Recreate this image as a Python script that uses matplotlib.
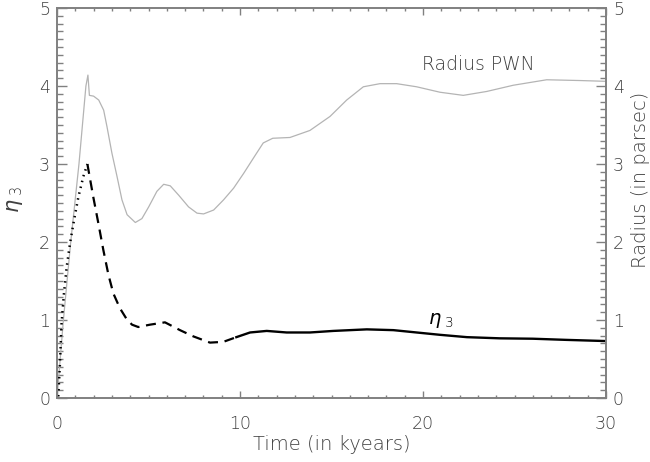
import numpy as np
import matplotlib
matplotlib.use("Agg")
import matplotlib.pyplot as plt
from matplotlib.ticker import MultipleLocator

plt.rcParams['font.family'] = ['DejaVu Sans']
plt.rcParams['font.weight'] = 'light'
plt.rcParams['axes.labelweight'] = 'light'
plt.rcParams['mathtext.fontset'] = 'dejavusans'

# radius of the PWN (grey curve), parsec vs kyr
radius_t = [0.0, 0.35, 0.75, 1.2, 1.58, 1.69, 1.77, 2.0, 2.28, 2.55, 2.73, 3.0, 3.28,
            3.55, 3.83, 4.28, 4.64, 5.01, 5.46, 5.83, 6.19, 6.65, 7.19, 7.65, 8.01,
            8.56, 9.1, 9.65, 10.2, 10.8, 11.27, 11.79, 12.73, 13.82, 14.92, 15.83,
            16.74, 17.65, 18.56, 19.65, 20.93, 22.2, 23.48, 24.94, 26.76, 28.58, 30.0]
radius_r = [0.0, 1.0, 2.0, 3.0, 4.0, 4.14, 3.88, 3.87, 3.82, 3.69, 3.48, 3.14, 2.84,
            2.54, 2.35, 2.25, 2.30, 2.45, 2.65, 2.74, 2.72, 2.60, 2.45, 2.37, 2.36,
            2.41, 2.54, 2.69, 2.88, 3.1, 3.27, 3.33, 3.34, 3.43, 3.61, 3.82,
            3.99, 4.03, 4.03, 3.99, 3.92, 3.88, 3.93, 4.01, 4.08, 4.07, 4.06]

# eta_3, drawn in three phases
eta_dot_t = [0.07, 0.16, 0.25, 0.38, 0.53, 0.71, 0.93, 1.17, 1.44, 1.66]
eta_dot_v = [0.02, 0.44, 0.96, 1.34, 1.68, 1.98, 2.28, 2.58, 2.84, 3.0]

eta_dash_t = [1.66, 1.98, 2.26, 2.53, 2.81, 3.08, 3.44, 3.81, 4.1, 4.44, 5.08, 5.9,
              6.72, 7.45, 8.36, 9.09, 9.8]
eta_dash_v = [3.0, 2.58, 2.24, 1.90, 1.58, 1.34, 1.15, 1.01, 0.94, 0.91, 0.94, 0.97,
              0.87, 0.79, 0.71, 0.72, 0.78]

eta_solid_t = [9.8, 10.55, 11.46, 12.55, 13.82, 15.1, 16.93, 18.38, 19.65, 20.93,
               22.4, 24.2, 26.0, 27.85, 30.0]
eta_solid_v = [0.78, 0.84, 0.86, 0.84, 0.84, 0.86, 0.88, 0.87, 0.84, 0.81,
               0.78, 0.765, 0.76, 0.745, 0.73]

txt = '#404040'
axc = '#808080'

fig = plt.figure(figsize=(6.5, 4.62), dpi=100)
ax = fig.add_axes([57/650, 1 - 398/462, 549/650, 390/462])

ax.plot(radius_t, radius_r, color='#b4b4b4', lw=0.9)
ax.plot(eta_dot_t, eta_dot_v, color='black', lw=1.8, linestyle=(0, (0.6, 1.8)))
ax.plot(eta_dash_t, eta_dash_v, color='black', lw=1.6, linestyle=(0, (4.5, 3.0)))
ax.plot(eta_solid_t, eta_solid_v, color='black', lw=1.7)

ax.set_xlim(0, 30)
ax.set_ylim(0, 5)
ax.xaxis.set_major_locator(MultipleLocator(10))
ax.xaxis.set_minor_locator(MultipleLocator(1))
ax.yaxis.set_major_locator(MultipleLocator(1))
ax.yaxis.set_minor_locator(MultipleLocator(0.1))

ax2 = ax.twinx()
ax2.set_ylim(0, 5)
ax2.yaxis.set_major_locator(MultipleLocator(1))
ax2.yaxis.set_minor_locator(MultipleLocator(0.1))

for a in (ax, ax2):
    for s in a.spines.values():
        s.set_color(axc)
        s.set_linewidth(1.2)
    a.tick_params(which='both', direction='in', colors=axc, labelcolor=txt, labelsize=12.5)
ax.tick_params(axis='x', which='major', length=5, width=1, top=True, pad=12)
ax.tick_params(axis='x', which='minor', length=2.5, width=1, top=True)
ax.tick_params(axis='y', which='major', length=7.5, width=1, pad=5)
ax.tick_params(axis='y', which='minor', length=4.5, width=1)
ax2.tick_params(axis='y', which='major', length=7.5, width=1, pad=5)
ax2.tick_params(axis='y', which='minor', length=4.5, width=1)

ax.set_xlabel('Time (in kyears)', fontsize=14, color=txt, labelpad=2, fontweight='light')
ax.text(-0.077, 0.51, r'$\eta_{\ 3}$', transform=ax.transAxes, rotation=90,
        ha='center', va='center', fontsize=15, color=txt)
ax.text(1.062, 0.56, 'Radius (in parsec)', transform=ax.transAxes, rotation=90,
        ha='center', va='center', fontsize=14, color=txt)

ax.text(23.0, 4.27, 'Radius PWN', ha='center', va='center', fontsize=13.5, color=txt)
ax.text(21.0, 1.0, r'$\eta_{\ 3}$', ha='center', va='center', fontsize=14, color='black')

fig.savefig('out.png', dpi=100)
